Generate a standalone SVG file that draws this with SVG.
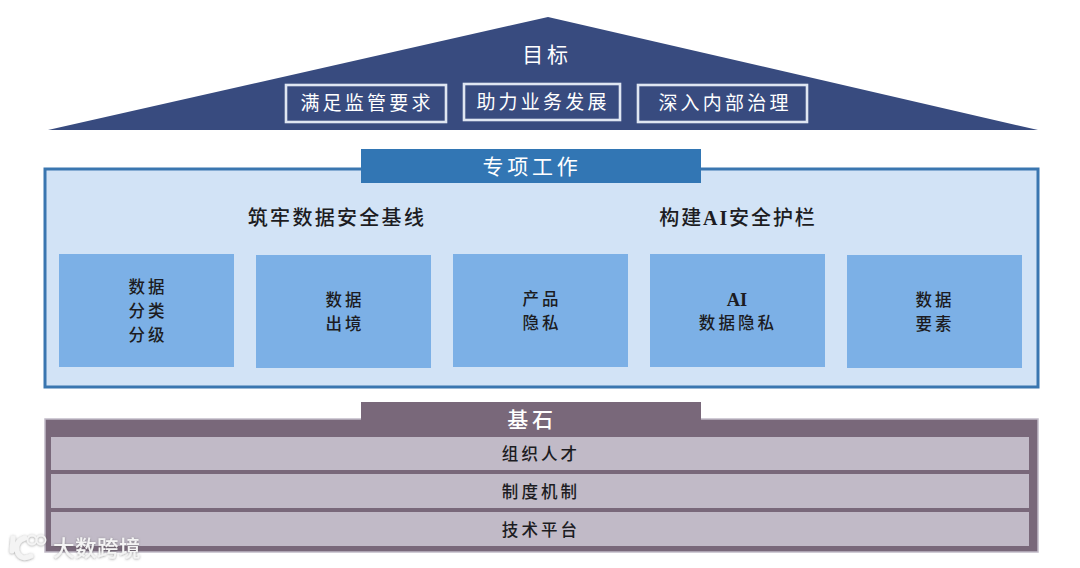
<svg xmlns="http://www.w3.org/2000/svg" width="1080" height="568" viewBox="0 0 1080 568">
<defs>
<style>
text{font-family:"Liberation Serif","Noto Sans CJK SC",serif;text-anchor:middle}
.w{fill:#fff}
.k{fill:#1c1c22;font-weight:500}
.goal{fill:none;stroke:#dfe6f2;stroke-width:2.6}
.box{fill:#7cb0e6}
.row{fill:#c1bac7}
.t19{font-size:19px;letter-spacing:3.2px}
.t21{font-size:21px;letter-spacing:3.8px}
.t20{font-size:20px;letter-spacing:2.3px}
.t16{font-size:16.5px;letter-spacing:3.1px}
</style>
<filter id="sh" x="-20%" y="-20%" width="140%" height="140%"><feDropShadow dx="0" dy="0.5" stdDeviation="1.2" flood-color="#555" flood-opacity=".6"/></filter>
</defs>
<rect width="1080" height="568" fill="#fff"/>
<g id="connectors"/>
<g id="goal-roof">
<polygon points="48,130 548,17 1038,130" fill="#384b7f"/>
<text class="w t21" x="547" y="62">目标</text>
</g>
<g id="goal-1"><rect class="goal" x="286" y="85" width="160" height="37"/><text class="w t19" x="367" y="110">满足监管要求</text></g>
<g id="goal-2"><rect class="goal" x="464" y="84" width="156" height="36"/><text class="w t19" x="543" y="109">助力业务发展</text></g>
<g id="goal-3"><rect class="goal" x="638" y="85" width="169" height="37"/><text class="w t19" x="725" y="110">深入内部治理</text></g>
<g id="work-panel">
<rect x="45" y="169" width="993" height="218" fill="#d2e3f6" stroke="#3a76b0" stroke-width="3"/>
<rect x="361" y="149" width="340" height="34" fill="#3276b4"/>
<text class="w t21" x="532" y="174">专项工作</text>
<text class="k t20" x="337" y="225">筑牢数据安全基线</text>
<text class="k t20" x="738" y="225" style="letter-spacing:1.9px">构建<tspan font-weight="bold">AI</tspan>安全护栏</text>
</g>
<g id="work-1"><rect class="box" x="59" y="254" width="175" height="113"/><text class="k t16" x="148" y="293">数据</text><text class="k t16" x="148" y="317">分类</text><text class="k t16" x="148" y="341">分级</text></g>
<g id="work-2"><rect class="box" x="256" y="255" width="175" height="113"/><text class="k t16" x="345" y="306">数据</text><text class="k t16" x="345" y="330">出境</text></g>
<g id="work-3"><rect class="box" x="453" y="254" width="175" height="113"/><text class="k t16" x="542" y="305">产品</text><text class="k t16" x="542" y="329">隐私</text></g>
<g id="work-4"><rect class="box" x="650" y="254" width="175" height="113"/><text x="737" y="306" font-size="18.5" font-weight="bold" fill="#1c1c22">AI</text><text class="k t16" x="738" y="329">数据隐私</text></g>
<g id="work-5"><rect class="box" x="847" y="255" width="175" height="113"/><text class="k t16" x="935" y="306">数据</text><text class="k t16" x="935" y="330">要素</text></g>
<g id="base-panel">
<rect x="45" y="419" width="993" height="133" fill="#79687a" stroke="#c1bac7" stroke-width="1.5"/>
<rect x="361" y="402" width="340" height="20" fill="#79687a"/>
<text class="w t21" x="532" y="427" font-weight="500">基石</text>
</g>
<g id="base-1"><rect class="row" x="51" y="437" width="978" height="33"/><text class="k t16" x="541" y="460">组织人才</text></g>
<g id="base-2"><rect class="row" x="51" y="474" width="978" height="34"/><text class="k t16" x="541" y="498">制度机制</text></g>
<g id="base-3"><rect class="row" x="51" y="512" width="978" height="34"/><text class="k t16" x="541" y="536">技术平台</text></g>
<g id="watermark" filter="url(#sh)">
<path d="M13 538L12 551M25 538Q15 541 17 551Q20 561 31 556" fill="none" stroke="#f4f4f4" stroke-width="5" stroke-linecap="round"/>
<circle cx="32" cy="540" r="4.5" fill="none" stroke="#f4f4f4" stroke-width="1.8"/>
<circle cx="41" cy="540" r="4.5" fill="none" stroke="#f4f4f4" stroke-width="1.8"/>
<text x="97" y="556" font-size="21.5" fill="#f4f4f4" font-weight="500" style="letter-spacing:.5px;font-family:'Noto Sans CJK SC',sans-serif">大数跨境</text>
</g>
</svg>
